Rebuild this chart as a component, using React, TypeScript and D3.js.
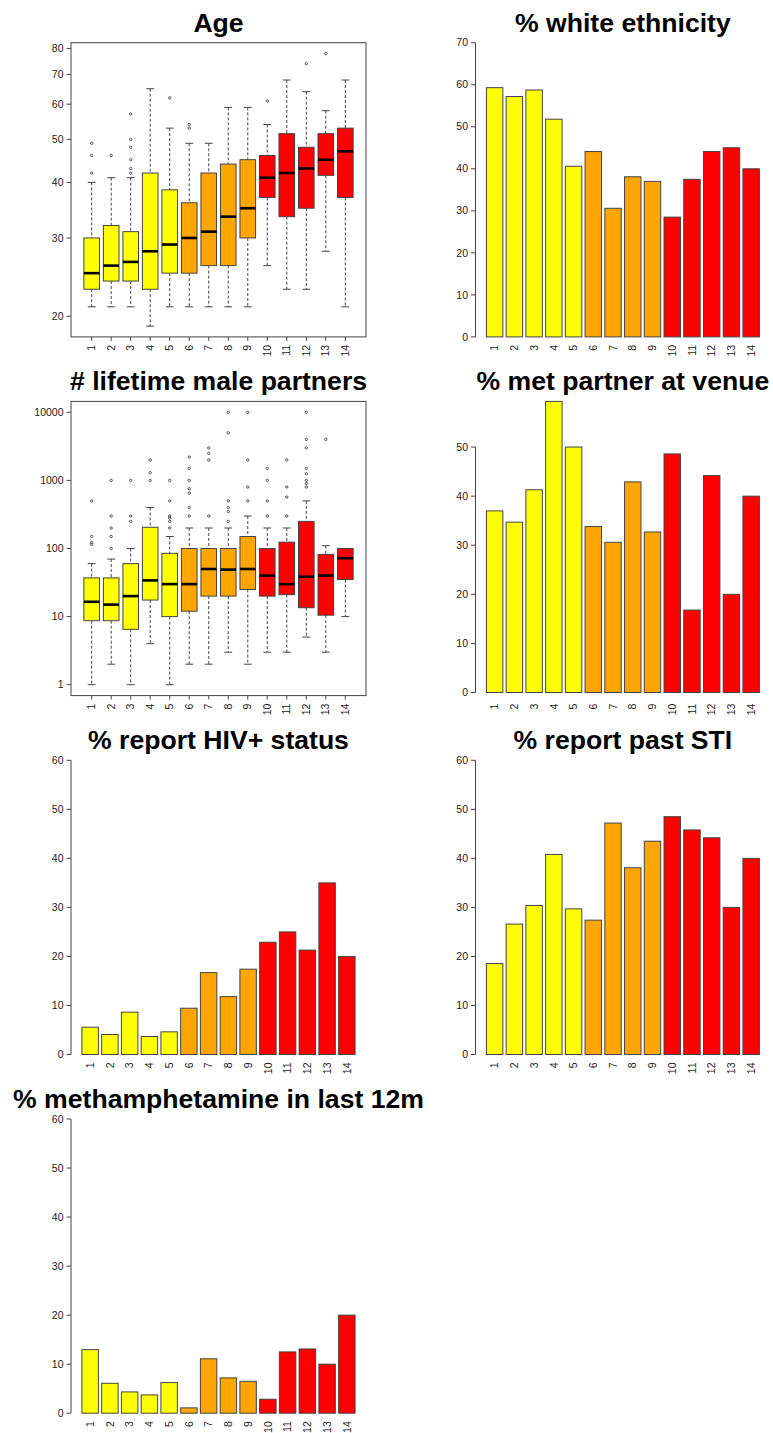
import React from "react";
import * as d3 from "d3";

// ---------- data ----------
const groups = ["1", "2", "3", "4", "5", "6", "7", "8", "9", "10", "11", "12", "13", "14"];
const cluster = [0, 0, 0, 0, 0, 1, 1, 1, 1, 2, 2, 2, 2, 2];
const palette = ["#FFFF00", "#FFA500", "#FF0000"];

// Age box plot statistics
const ageLower = [21, 21, 21, 19, 21, 21, 21, 21, 21, 26, 23, 23, 28, 21];
const ageQ1 = [23, 24, 24, 23, 25, 25, 26, 26, 30, 37, 33.5, 35, 41.5, 37];
const ageMedian = [25, 26, 26.5, 28, 29, 30, 31, 33.5, 35, 41, 42, 43, 45, 47];
const ageQ3 = [30, 32, 31, 42, 38.5, 36, 42, 44, 45, 46, 51.5, 48, 51.5, 53];
const ageUpper = [40, 41, 41, 65, 53, 49, 49, 59, 59, 54, 68, 64, 58, 68];
const ageOutliers = [
  [42, 46, 49],
  [46],
  [42, 43, 45, 48, 50, 57],
  [],
  [62],
  [53, 54],
  [],
  [],
  [],
  [61],
  [],
  [74],
  [78],
  [],
];
const ageTicks = [20, 30, 40, 50, 60, 70, 80];

// Lifetime male partners box plot statistics
const partLower = [1, 2, 1, 4, 1, 2, 2, 3, 2, 3, 3, 5, 3, 10];
const partQ1 = [8.7, 8.7, 6.5, 17.5, 10, 12, 20, 20, 25, 20, 21, 13.5, 10.5, 35];
const partMedian = [16.5, 15, 20, 34, 30, 30, 50, 49, 50, 40, 30, 38.5, 40, 72];
const partQ3 = [37, 37, 60, 205, 85, 100, 100, 100, 150, 100, 124, 250, 82, 100];
const partUpper = [60, 70, 100, 400, 150, 200, 200, 200, 300, 200, 200, 500, 110, 100];
const partOutliers = [
  [115, 122, 150, 500],
  [100, 150, 200, 300, 1000],
  [250, 300, 1000],
  [1000, 1300, 2000],
  [200, 250, 280, 300, 500, 1000],
  [300, 400, 650, 750, 1000, 1500, 2200],
  [300, 2000, 2500, 3000],
  [250, 350, 400, 500, 5000, 10000],
  [500, 800, 2000, 10000],
  [300, 500, 1000, 1500],
  [300, 570, 800, 2000],
  [800, 900, 1000, 1250, 1500, 3000, 4000, 10000],
  [4000],
  [],
];
const partTicks = [1, 10, 100, 1000, 10000];

// Bar chart percentages
const whitePct = [59.3, 57.2, 58.75, 51.8, 40.6, 44.1, 30.6, 38.1, 37.0, 28.5, 37.5, 44.1, 45.0, 40.0];
const venuePct = [37.0, 34.7, 41.3, 59.3, 50.0, 33.8, 30.6, 42.9, 32.7, 48.6, 16.8, 44.2, 20.0, 40.0];
const hivPct = [5.57, 4.08, 8.63, 3.67, 4.62, 9.44, 16.7, 11.8, 17.4, 22.9, 25.0, 21.3, 35.0, 20.0];
const stiPct = [18.55, 26.6, 30.4, 40.8, 29.7, 27.4, 47.2, 38.1, 43.5, 48.5, 45.8, 44.2, 30.0, 40.0];
const methPct = [12.96, 6.1, 4.34, 3.73, 6.24, 1.09, 11.1, 7.2, 6.5, 2.85, 12.5, 13.1, 10.0, 20.0];

const ticks70 = [0, 10, 20, 30, 40, 50, 60, 70];
const ticks60 = [0, 10, 20, 30, 40, 50, 60];
const ticks50 = [0, 10, 20, 30, 40, 50];

// ---------- layout ----------
const W = 773;
const H = 1433;
const colX = [
  [71, 366],
  [475.5, 770.3],
];
const rowTop = [42.7, 401.4, 760.3, 1119];
const plotH = 294.2;

const FONT = "'Liberation Sans', Arial, Helvetica, sans-serif";
const LINE = "#444";
const TEXT = "#1a1a1a";

type BoxProps = {
  title: string;
  col: number;
  row: number;
  domain: [number, number];
  ticks: number[];
  lower: number[];
  q1: number[];
  median: number[];
  q3: number[];
  upper: number[];
  outliers: number[][];
};

function Title({ text, cx, top }: { text: string; cx: number; top: number }) {
  return (
    <text x={cx} y={top - 11} textAnchor="middle" fontFamily={FONT} fontWeight="bold" fontSize={26.6} fill="#000">
      {text}
    </text>
  );
}

function XLabels({ xs, bottom }: { xs: number[]; bottom: number }) {
  return (
    <g>
      {groups.map((g, i) => (
        <text
          key={g}
          transform={`translate(${xs[i]},${bottom + 8}) rotate(-90)`}
          textAnchor="end"
          dy="0.35em"
          fontFamily={FONT}
          fontSize={10.5}
          fill={TEXT}
        >
          {g}
        </text>
      ))}
    </g>
  );
}

function YAxis({ x, y, ticks }: { x: number; y: (v: number) => number; ticks: number[] }) {
  return (
    <g>
      <line x1={x} x2={x} y1={y(ticks[0])} y2={y(ticks[ticks.length - 1])} stroke={LINE} strokeWidth={1} />
      {ticks.map((t) => (
        <g key={t}>
          <line x1={x - 4.5} x2={x} y1={y(t)} y2={y(t)} stroke={LINE} strokeWidth={1} />
          <text x={x - 7.5} y={y(t)} dy="0.35em" textAnchor="end" fontFamily={FONT} fontSize={10.5} fill={TEXT}>
            {t}
          </text>
        </g>
      ))}
    </g>
  );
}

function BoxPanel(p: BoxProps) {
  const [x0, x1] = colX[p.col];
  const top = rowTop[p.row];
  const bottom = top + plotH;
  const n = groups.length;
  const ext = n * 0.04;
  const x = d3.scaleLinear().domain([0.5 - ext, n + 0.5 + ext]).range([x0, x1]);
  const y = d3.scaleLog().domain(p.domain).range([bottom, top]);
  const bw = (x(1.4) - x(0.6));
  const sw = bw / 2;
  const xs = groups.map((_, i) => x(i + 1));
  return (
    <g>
      <Title text={p.title} cx={(x0 + x1) / 2} top={top} />
      {groups.map((g, i) => {
        const cx = xs[i];
        return (
          <g key={g}>
            <line x1={cx} x2={cx} y1={y(p.upper[i])} y2={y(p.q3[i])} stroke={LINE} strokeDasharray="3,2" />
            <line x1={cx} x2={cx} y1={y(p.q1[i])} y2={y(p.lower[i])} stroke={LINE} strokeDasharray="3,2" />
            <line x1={cx - sw / 2} x2={cx + sw / 2} y1={y(p.upper[i])} y2={y(p.upper[i])} stroke={LINE} />
            <line x1={cx - sw / 2} x2={cx + sw / 2} y1={y(p.lower[i])} y2={y(p.lower[i])} stroke={LINE} />
            <rect
              x={cx - bw / 2}
              y={y(p.q3[i])}
              width={bw}
              height={y(p.q1[i]) - y(p.q3[i])}
              fill={palette[cluster[i]]}
              stroke={LINE}
              strokeWidth={1}
            />
            <line x1={cx - bw / 2} x2={cx + bw / 2} y1={y(p.median[i])} y2={y(p.median[i])} stroke="#000" strokeWidth={2.6} />
            {p.outliers[i].map((o, j) => (
              <circle key={j} cx={cx} cy={y(o)} r={1.2} fill="none" stroke={LINE} strokeWidth={0.9} />
            ))}
          </g>
        );
      })}
      <rect x={x0} y={top} width={x1 - x0} height={bottom - top} fill="none" stroke={LINE} strokeWidth={1} />
      {p.ticks.map((t) => (
        <g key={t}>
          <line x1={x0 - 4.5} x2={x0} y1={y(t)} y2={y(t)} stroke={LINE} />
          <text x={x0 - 7.5} y={y(t)} dy="0.35em" textAnchor="end" fontFamily={FONT} fontSize={10.5} fill={TEXT}>
            {t}
          </text>
        </g>
      ))}
      {xs.map((cx, i) => (
        <line key={i} x1={cx} x2={cx} y1={bottom} y2={bottom + 4} stroke={LINE} />
      ))}
      <XLabels xs={xs} bottom={bottom} />
    </g>
  );
}

type BarProps = {
  title: string;
  col: number;
  row: number;
  domain: [number, number];
  ticks: number[];
  values: number[];
};

function BarPanel(p: BarProps) {
  const [x0, x1] = colX[p.col];
  const top = rowTop[p.row];
  const bottom = top + plotH;
  const n = groups.length;
  const lo = 0.2;
  const hi = 1.2 * n;
  const ext = (hi - lo) * 0.04;
  const x = d3.scaleLinear().domain([lo - ext, hi + ext]).range([x0, x1]);
  const y = d3.scaleLinear().domain(p.domain).range([bottom, top]);
  const xs = groups.map((_, i) => x(0.2 + 1.2 * i + 0.5));
  return (
    <g>
      <Title text={p.title} cx={(x0 + x1) / 2} top={top} />
      {p.values.map((v, i) => (
        <rect
          key={i}
          x={x(0.2 + 1.2 * i)}
          y={y(v)}
          width={x(1.2 * (i + 1)) - x(0.2 + 1.2 * i)}
          height={y(0) - y(v)}
          fill={palette[cluster[i]]}
          stroke={LINE}
          strokeWidth={1}
        />
      ))}
      <YAxis x={x0} y={y} ticks={p.ticks} />
      <XLabels xs={xs} bottom={bottom} />
    </g>
  );
}

export default function App() {
  if (typeof document !== "undefined") document.body.style.margin = "0";
  return (
    <svg width={W} height={H} style={{ position: "absolute", left: 0, top: 0, background: "#fff" }}>
      <rect x={0} y={0} width={W} height={H} fill="#fff" />
      <BoxPanel
        title="Age"
        col={0}
        row={0}
        domain={[17.97, 82.5]}
        ticks={ageTicks}
        lower={ageLower}
        q1={ageQ1}
        median={ageMedian}
        q3={ageQ3}
        upper={ageUpper}
        outliers={ageOutliers}
      />
      <BarPanel title="% white ethnicity" col={1} row={0} domain={[0, 70]} ticks={ticks70} values={whitePct} />
      <BoxPanel
        title="# lifetime male partners"
        col={0}
        row={1}
        domain={[Math.pow(10, -0.16), Math.pow(10, 4.16)]}
        ticks={partTicks}
        lower={partLower}
        q1={partQ1}
        median={partMedian}
        q3={partQ3}
        upper={partUpper}
        outliers={partOutliers}
      />
      <BarPanel title="% met partner at venue" col={1} row={1} domain={[-0.63, 59.3]} ticks={ticks50} values={venuePct} />
      <BarPanel title="% report HIV+ status" col={0} row={2} domain={[0, 60]} ticks={ticks60} values={hivPct} />
      <BarPanel title="% report past STI" col={1} row={2} domain={[0, 60]} ticks={ticks60} values={stiPct} />
      <BarPanel title="% methamphetamine in last 12m" col={0} row={3} domain={[0, 60]} ticks={ticks60} values={methPct} />
    </svg>
  );
}
